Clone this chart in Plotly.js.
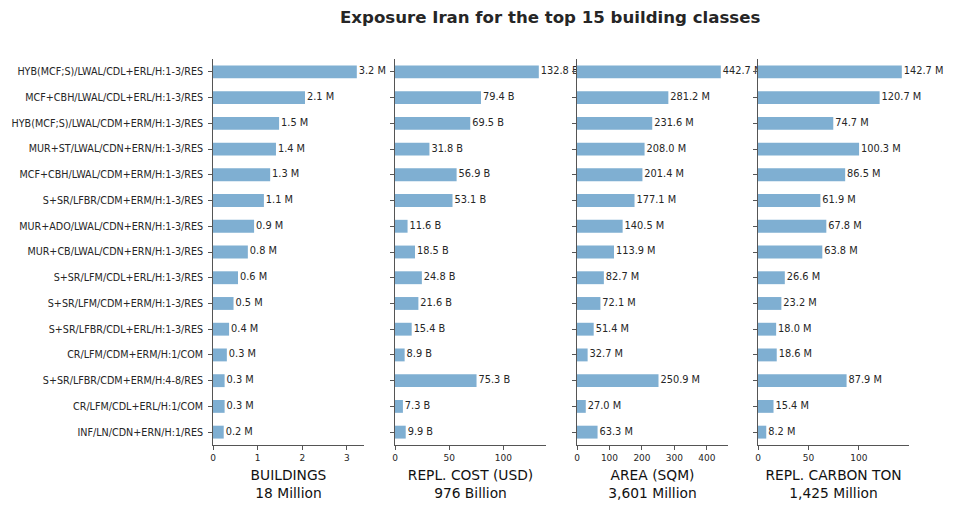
<!DOCTYPE html>
<html>
<head>
<meta charset="utf-8">
<script src="https://cdn.plot.ly/plotly-3.0.1.min.js"></script>
<style>html,body{margin:0;padding:0;background:#fff;}#chart{width:953px;height:510px;}</style>
</head>
<body>
<div id="chart"></div>
<script>
const classes = [
  "HYB(MCF;S)/LWAL/CDL+ERL/H:1-3/RES",
  "MCF+CBH/LWAL/CDL+ERL/H:1-3/RES",
  "HYB(MCF;S)/LWAL/CDM+ERM/H:1-3/RES",
  "MUR+ST/LWAL/CDN+ERN/H:1-3/RES",
  "MCF+CBH/LWAL/CDM+ERM/H:1-3/RES",
  "S+SR/LFBR/CDM+ERM/H:1-3/RES",
  "MUR+ADO/LWAL/CDN+ERN/H:1-3/RES",
  "MUR+CB/LWAL/CDN+ERN/H:1-3/RES",
  "S+SR/LFM/CDL+ERL/H:1-3/RES",
  "S+SR/LFM/CDM+ERM/H:1-3/RES",
  "S+SR/LFBR/CDL+ERL/H:1-3/RES",
  "CR/LFM/CDM+ERM/H:1/COM",
  "S+SR/LFBR/CDM+ERM/H:4-8/RES",
  "CR/LFM/CDL+ERL/H:1/COM",
  "INF/LN/CDN+ERN/H:1/RES"
];
// millions of buildings
const buildings = [3.22, 2.06, 1.48, 1.41, 1.28, 1.14, 0.92, 0.78, 0.56, 0.46, 0.36, 0.31, 0.26, 0.26, 0.24];
// billions USD
const replCost = [132.8, 79.4, 69.5, 31.8, 56.9, 53.1, 11.6, 18.5, 24.8, 21.6, 15.4, 8.9, 75.3, 7.3, 9.9];
// millions sqm
const area = [442.7, 281.2, 231.6, 208.0, 201.4, 177.1, 140.5, 113.9, 82.7, 72.1, 51.4, 32.7, 250.9, 27.0, 63.3];
// millions ton
const carbon = [142.7, 120.7, 74.7, 100.3, 86.5, 61.9, 67.8, 63.8, 26.6, 23.2, 18.0, 18.6, 87.9, 15.4, 8.2];

const panels = [
  {vals: buildings, unit: "M", title: "BUILDINGS<br>18 Million", ticks: [0,1,2,3]},
  {vals: replCost, unit: "B", title: "REPL. COST (USD)<br>976 Billion", ticks: [0,50,100]},
  {vals: area, unit: "M", title: "AREA (SQM)<br>3,601 Million", ticks: [0,100,200,300,400]},
  {vals: carbon, unit: "M", title: "REPL. CARBON TON<br>1,425 Million", ticks: [0,50,100]}
];
const W = 953, H = 510;
const xDom = [[213,364],[395,546],[577,728],[758,909]].map(d => [d[0]/W, d[1]/W]);
const yDom = [(H-445)/H, (H-59)/H];
const barColor = "rgb(127,175,210)";
const textColor = "#262626";
const spine = "#555555";
const fam = "DejaVu Sans";

const data = [];
const layout = {
  width: W, height: H,
  margin: {l:0, r:0, t:0, b:0},
  paper_bgcolor: "#fff", plot_bgcolor: "#fff",
  showlegend: false,
  font: {family: fam, color: textColor, size: 9.5},
  annotations: [{
    text: "<b>Exposure Iran for the top 15 building classes</b>",
    xref: "paper", yref: "paper", x: 550/W, y: 1 - 18/H,
    xanchor: "center", yanchor: "middle", showarrow: false,
    font: {family: fam, size: 16.6, color: textColor}
  }]
};

panels.forEach((p, i) => {
  const n = i === 0 ? "" : String(i+1);
  const maxv = Math.max(...p.vals);
  data.push({
    type: "bar", orientation: "h",
    x: p.vals, y: classes,
    xaxis: "x" + n, yaxis: "y" + n,
    width: 0.5,
    marker: {color: barColor, line: {width: 0}},
    hoverinfo: "skip"
  });
  data.push({
    type: "scatter", mode: "text",
    x: p.vals, y: classes,
    xaxis: "x" + n, yaxis: "y" + n,
    text: p.vals.map(v => "\u2009" + v.toFixed(1) + " " + p.unit),
    textposition: "middle right",
    cliponaxis: false,
    textfont: {family: fam, size: 9.8, color: textColor},
    hoverinfo: "skip"
  });
  layout["xaxis" + n] = {
    domain: xDom[i], anchor: "y" + n,
    range: [0, maxv * 1.05],
    tickvals: p.ticks, ticktext: p.ticks.map(String),
    ticks: "outside", ticklen: 4, tickcolor: spine, tickwidth: 1,
    showline: true, linecolor: spine, linewidth: 1,
    showgrid: false, zeroline: false,
    tickfont: {family: fam, size: 9, color: textColor},
    title: {text: p.title, standoff: 8, font: {family: fam, size: 13.8, color: "#111"}},
    fixedrange: true
  };
  layout["yaxis" + n] = {
    domain: yDom, anchor: "x" + n,
    type: "category", categoryarray: classes,
    range: [14.5, -0.5],
    ticks: "outside", ticklen: 4, tickcolor: spine, tickwidth: 1,
    ticklabelstandoff: 3,
    showline: true, linecolor: spine, linewidth: 1,
    showgrid: false, zeroline: false,
    showticklabels: i === 0,
    tickfont: {family: fam, size: 9.6, color: textColor},
    fixedrange: true
  };
});

Plotly.newPlot("chart", data, layout, {displayModeBar: false, staticPlot: true});
</script>
</body>
</html>
